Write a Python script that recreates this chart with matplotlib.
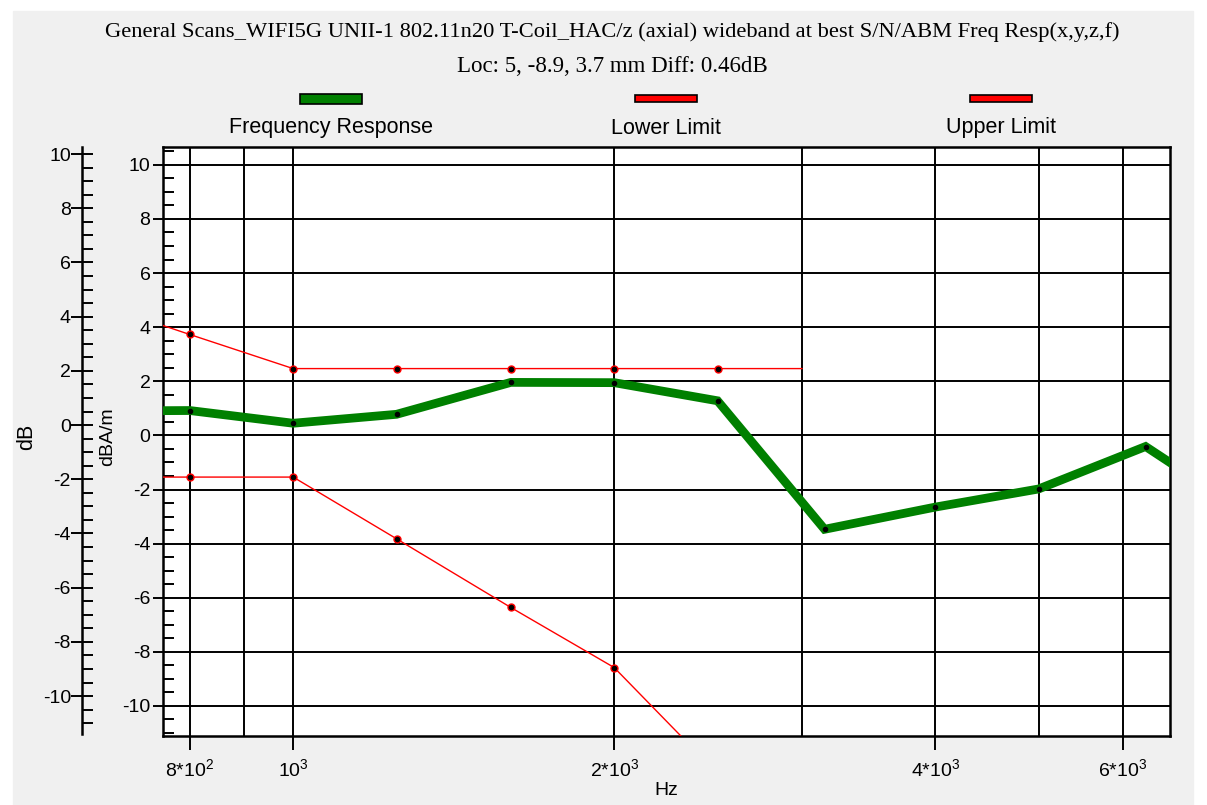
import numpy as np
import matplotlib.pyplot as plt
from matplotlib.patches import Rectangle
from matplotlib.ticker import FixedLocator, MultipleLocator, NullFormatter

W, H = 1207, 805

# data
freq_resp_hz = [630, 800, 1000, 1250, 1600, 2000, 2500, 3150, 4000, 5000, 6300, 8000]
freq_resp_db = [0.9, 0.92, 0.45, 0.78, 1.96, 1.95, 1.28, -3.47, -2.65, -1.98, -0.41, -3.1]

upper_hz = [630, 800, 1000, 1250, 1600, 2000, 2500, 3000]
upper_db = [5.1, 3.73, 2.47, 2.47, 2.47, 2.47, 2.47, 2.47]

lower_hz = [630, 800, 1000, 1250, 1600, 2000, 2500]
lower_db = [-1.54, -1.54, -1.54, -3.82, -6.36, -8.58, -12.5]

xtick_vals = [800, 1000, 2000, 4000, 6000]
xtick_labels = ['8*10$^{2}$', '10$^{3}$', '2*10$^{3}$', '4*10$^{3}$', '6*10$^{3}$']
grid_x = [800, 900, 1000, 2000, 3000, 4000, 5000, 6000]

title1 = 'General Scans_WIFI5G UNII-1 802.11n20 T-Coil_HAC/z (axial) wideband at best S/N/ABM Freq Resp(x,y,z,f)'
title2 = 'Loc: 5, -8.9, 3.7 mm Diff: 0.46dB'

plt.rcParams['font.family'] = ['Liberation Sans', 'DejaVu Sans']
plt.rcParams['axes.unicode_minus'] = False
plt.rcParams['mathtext.fontset'] = 'custom'
plt.rcParams['mathtext.rm'] = 'Liberation Sans'
plt.rcParams['mathtext.it'] = 'Liberation Sans'
plt.rcParams['mathtext.default'] = 'rm'
tick_fs = 14
fig = plt.figure(figsize=(W / 100, H / 100), dpi=100, facecolor='white')
fig.patches.append(Rectangle((13 / W, 0), (1193 - 13) / W, (H - 11) / H,
                             transform=fig.transFigure, color='#f0f0f0', zorder=-5))


def fx(px):
    return px / W


def fy(py):
    return 1 - py / H


# main plot
ax = fig.add_axes([fx(163), fy(736), (1170 - 163) / W, (736 - 147) / H])
ax.set_xscale('log')
ax.set_xlim(755, 6641)
ax.set_ylim(-11.11, 10.66)

for gx in grid_x:
    ax.axvline(gx, color='black', lw=1.4, zorder=1)
for gy in range(-10, 11, 2):
    ax.axhline(gy, color='black', lw=1.4, zorder=1)

ax.plot(upper_hz, upper_db, color='red', lw=1.0, zorder=3)
ax.plot(upper_hz[1:-1], upper_db[1:-1], 'o', ms=5, mfc='black', mec='red', mew=1.0, zorder=4)
ax.plot(lower_hz, lower_db, color='red', lw=1.0, zorder=3)
ax.plot(lower_hz[1:-1], lower_db[1:-1], 'o', ms=5, mfc='black', mec='red', mew=1.0, zorder=4)
ax.plot(freq_resp_hz, freq_resp_db, color='#008000', lw=6.3, solid_joinstyle='miter', zorder=5)
ax.plot(freq_resp_hz, freq_resp_db, 'o', ms=3, color='black', zorder=6)

ax.xaxis.set_major_locator(FixedLocator(xtick_vals))
ax.set_xticklabels(xtick_labels, fontsize=tick_fs)
ax.xaxis.set_minor_locator(FixedLocator([]))
ax.xaxis.set_minor_formatter(NullFormatter())
ax.tick_params(axis='x', which='major', direction='out', length=10, width=1.4, pad=6)
fig.text(fx(666), fy(790), 'Hz', fontsize=tick_fs, ha='center', va='center')

ax.yaxis.set_major_locator(MultipleLocator(2))
ax.yaxis.set_minor_locator(MultipleLocator(0.5))
ax.tick_params(axis='y', which='major', direction='out', length=7, width=1.4, labelsize=tick_fs, pad=2)
ax.tick_params(axis='y', which='minor', direction='in', length=8, width=1.4)
fig.text(fx(108), fy(437), 'dBA/m', rotation=90, fontsize=tick_fs, ha='center', va='center')
for s in ax.spines.values():
    s.set_linewidth(1.8)

# outer dB axis
ax2 = fig.add_axes([fx(82), fy(734), 0.0001, (734 - 147) / H])
ax2.set_facecolor('none')
for k in ['right', 'top', 'bottom']:
    ax2.spines[k].set_visible(False)
ax2.spines['left'].set_linewidth(1.8)
ax2.set_xticks([])
ax2.set_ylim(-11.4, 10.26)
ax2.yaxis.set_major_locator(MultipleLocator(2))
ax2.yaxis.set_minor_locator(MultipleLocator(0.5))
ax2.tick_params(axis='y', which='major', direction='inout', length=16, width=1.4, labelsize=tick_fs, pad=0)
ax2.tick_params(axis='y', which='minor', direction='in', length=8, width=1.4)
fig.text(fx(27), fy(437), 'dB', rotation=90, fontsize=tick_fs + 1.5, ha='center', va='center')

# titles
fig.text(0.507, fy(32), title1, family='Liberation Serif', fontsize=16.2, ha='center', va='center')
fig.text(0.507, fy(67), title2, family='Liberation Serif', fontsize=16.5, ha='center', va='center')

# legend
legend_items = [('Frequency Response', '#008000', 331, 10),
                ('Lower Limit', 'red', 666, 7),
                ('Upper Limit', 'red', 1001, 7)]
for name, col, cx, hh in legend_items:
    fig.patches.append(Rectangle((fx(cx - 31), fy(99 + hh / 2)), 62 / W, hh / H,
                                 transform=fig.transFigure, facecolor=col,
                                 edgecolor='black', lw=1.2))
    fig.text(fx(cx), fy(128), name, fontsize=15.5, ha='center', va='center')

fig.savefig('out.png', dpi=100, facecolor=fig.get_facecolor())
